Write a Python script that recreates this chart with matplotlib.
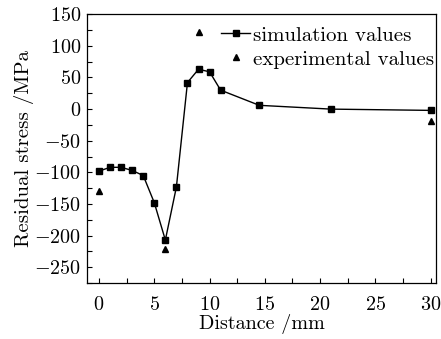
import matplotlib
matplotlib.use("Agg")
import matplotlib.pyplot as plt
from matplotlib.ticker import MultipleLocator

plt.rcParams['font.family'] = ['cmr10', 'DejaVu Serif']
plt.rcParams['mathtext.fontset'] = 'cm'
plt.rcParams['axes.formatter.use_mathtext'] = True

sim_x = [0, 1, 2, 3, 4, 5, 6, 7, 8, 9, 10, 11, 14.5, 21, 30]
sim_y = [-98, -92, -92, -97, -105, -148, -207, -123, 42, 63, 59, 30, 6, 0, -2]
exp_x = [0, 6, 9, 30]
exp_y = [-130, -221, 122, -19]

fig = plt.figure(figsize=(4.41, 3.39), dpi=100)
ax = fig.add_axes([0.197, 0.165, 0.792, 0.793])

ax.plot(sim_x, sim_y, color='black', lw=1.0, marker='s', ms=4.5,
        label='simulation values')
ax.plot(exp_x, exp_y, ls='none', color='black', marker='^', ms=5,
        label='experimental values')

ax.set_xlim(-1.1, 30.5)
ax.set_ylim(-275, 150)
ax.xaxis.set_major_locator(MultipleLocator(5))
ax.xaxis.set_minor_locator(MultipleLocator(2.5))
ax.yaxis.set_major_locator(MultipleLocator(50))
ax.yaxis.set_minor_locator(MultipleLocator(25))
ax.tick_params(which='both', direction='in', length=3.5, width=0.8,
               labelsize=14.5, top=False, right=False, pad=4)
ax.tick_params(axis='x', pad=9)
for s in ax.spines.values():
    s.set_linewidth(0.9)

ax.set_xlabel('Distance /mm', fontsize=14.5, labelpad=0)
ax.set_ylabel('Residual stress /MPa', fontsize=15, labelpad=0)

ax.legend(loc='upper right', frameon=False, fontsize=15,
          handlelength=1.4, handletextpad=0.15, labelspacing=0.25,
          borderaxespad=0.0, borderpad=0.25, bbox_to_anchor=(1.01, 0.975))

fig.savefig('out.png', dpi=100)
